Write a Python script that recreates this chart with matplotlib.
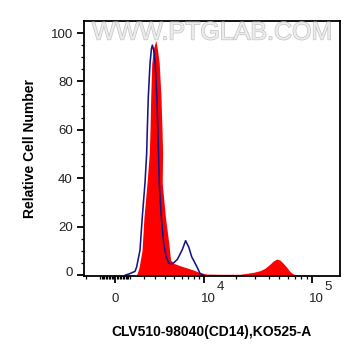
import numpy as np
import matplotlib
matplotlib.use("Agg")
import matplotlib.pyplot as plt
from matplotlib.ticker import FixedLocator, NullFormatter
from matplotlib.transforms import ScaledTranslation, blended_transform_factory
import matplotlib.patheffects as pe

plt.rcParams['font.family'] = ['Liberation Sans', 'DejaVu Sans']

# ---- data (fluorescence intensity, relative cell number) ----
sample_x = [1450, 1505, 1653, 1880, 2036, 2277, 2469, 2530, 2589, 2677, 2850, 3042,
            3200, 3363, 3536, 3639, 3703, 3660, 3995, 4370, 4573, 4978, 5919, 6996,
            8203, 9151, 10615, 14188, 21794, 25137, 28930, 33340, 37060, 41220,
            44210, 47510, 50940, 54660, 58720, 62970, 67500, 72530]
sample_y = [0, 0.5, 3, 10, 24, 38, 50.4, 60, 73.7, 87.5, 94, 97,
            93, 87.5, 73.7, 60, 50.4, 38, 24, 13, 6.2, 4.8, 3.7, 2.8,
            1.8, 1.0, 0.4, 0.3, 0.3, 0.7, 1.1, 1.8, 2.8, 4.5,
            5.8, 6.6, 6.2, 4.8, 3.2, 1.4, 0.4, 0]

control_x = [700, 869, 1007, 1147, 1360, 1483, 1728, 1904, 2115, 2252, 2302,
             2385, 2530, 2650, 2731, 2850, 2977, 3137, 3234, 3296, 3363, 3567, 3809,
             4073, 4370, 4692, 5000, 5425, 6100, 6591, 7100, 7578, 8545, 9151, 9846]
control_y = [0, 0.3, 0.6, 1.0, 1.5, 3.4, 10.3, 24, 38, 50.4, 60,
             73.7, 87.5, 93.5, 95, 93, 87.5, 73.7, 60, 50.4, 38, 24, 13,
             7.6, 4.9, 4.6, 5.2, 6.5, 10.5, 14.2, 11.5, 7.6, 3.4, 0.7, 0]

x_major = [0, 10000, 100000]
x_major_labels = ['0', '10', '10']
x_major_exponents = ['', '4', '5']
x_minor = ([-v for v in range(100, 1000, 100)] + [-1000, -2000] +
           list(range(100, 1000, 100)) + list(range(1000, 10000, 1000)) +
           list(range(20000, 100000, 10000)))
y_major = [0, 20, 40, 60, 80, 100]
y_minor = list(range(5, 105, 5))

W = 3125.0

def fwd(x):
    return np.arcsinh(np.asarray(x, dtype=float) / W)

def inv(u):
    return W * np.sinh(np.asarray(u, dtype=float))

fig = plt.figure(figsize=(3.61, 3.56), dpi=100)
ax = fig.add_axes([84/361, 1-276/356, (340-84)/361, (276-21)/356])
ax.set_xscale('function', functions=(fwd, inv))

ax.fill_between(sample_x, sample_y, 0, color='#ff0000', lw=0, zorder=2)
ax.plot(control_x, control_y, color='#15158a', lw=1.15, zorder=2.2)

ax.set_xlim(-2195, 181100)
ax.set_ylim(-0.4, 105)

ax.xaxis.set_major_locator(FixedLocator(x_major))
ax.set_xticklabels(x_major_labels)
ax.xaxis.set_minor_locator(FixedLocator(x_minor))
ax.xaxis.set_minor_formatter(NullFormatter())
ax.yaxis.set_major_locator(FixedLocator(y_major))
ax.yaxis.set_minor_locator(FixedLocator(y_minor))
ax.yaxis.set_minor_formatter(NullFormatter())

for s in ax.spines.values():
    s.set_linewidth(1.3)
    s.set_color('black')

TICK_COLOR = '#222222'
ax.tick_params(axis='both', which='major', direction='out', width=1.3,
               labelsize=9.5, labelcolor=TICK_COLOR)
ax.tick_params(axis='x', which='major', length=5, pad=14)
ax.tick_params(axis='y', which='major', length=5, pad=3)
ax.tick_params(axis='both', which='minor', direction='out', width=0.9, length=2.5)

for lab in ax.get_xticklabels():
    lab.set_va('baseline')
xl = ax.get_xticklabels()
for lab in xl[1:]:
    lab.set_transform(lab.get_transform() + ScaledTranslation(4.5/100, 0, fig.dpi_scale_trans))
yl = ax.get_yticklabels()
yl[0].set_transform(yl[0].get_transform() + ScaledTranslation(0, 4/100, fig.dpi_scale_trans))

# exponents of the 10^n tick labels, nearly full size as in the reference
btrans = blended_transform_factory(ax.transData, ax.transAxes)
for xv, ex in zip(x_major, x_major_exponents):
    if ex:
        ax.text(xv, 0, ex, transform=btrans + ScaledTranslation(12.5/100, -13.5/100, fig.dpi_scale_trans),
                ha='left', va='baseline', fontsize=9.5, color=TICK_COLOR, clip_on=False)

ax.set_xlabel('CLV510-98040(CD14),KO525-A', fontsize=10, fontweight='bold', labelpad=14)
ax.set_ylabel('Relative Cell Number', fontsize=10, fontweight='bold', labelpad=10)

ax.text(0.5, 0.955, 'WWW.PTGLAB.COM', transform=ax.transAxes, ha='center', va='center',
        fontsize=18, color='#ececec', zorder=5,
        path_effects=[pe.withStroke(linewidth=1.0, foreground='#c4c4c4')])

fig.savefig('out.png', dpi=100)
